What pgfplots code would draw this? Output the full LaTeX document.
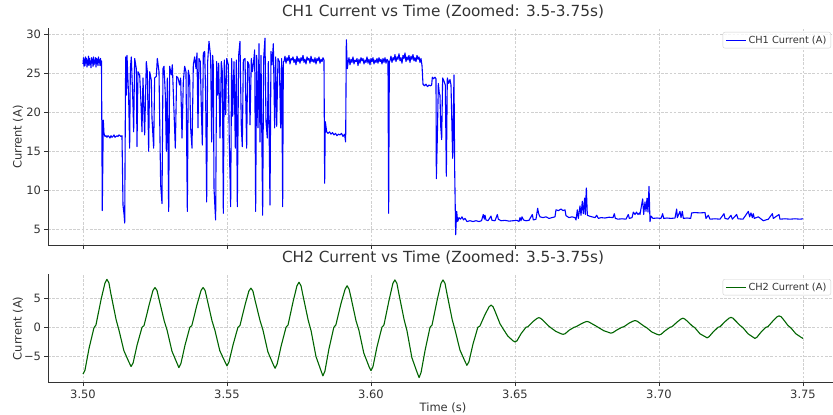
\documentclass[border=0pt]{standalone}
\usepackage{pgfplots}
\pgfplotsset{compat=1.18}
\usepackage{fontspec}
\setmainfont{DejaVu Sans}
\definecolor{txt}{HTML}{333333}
\definecolor{gridc}{HTML}{D0D0D0}
\definecolor{ch2}{HTML}{006400}
\definecolor{ch1}{HTML}{0000FF}
\pgfplotstableread{
t v
3.50000 26.2
3.50017 27.0
3.50035 25.9
3.50052 26.8
3.50069 26.0
3.50087 27.1
3.50104 26.3
3.50122 26.9
3.50139 25.8
3.50156 26.7
3.50174 26.1
3.50191 27.2
3.50208 26.0
3.50226 26.9
3.50243 26.2
3.50260 26.6
3.50278 25.7
3.50295 27.0
3.50312 26.4
3.50330 26.8
3.50347 25.9
3.50365 27.1
3.50382 26.1
3.50399 26.7
3.50417 26.3
3.50434 27.0
3.50451 25.8
3.50469 26.9
3.50486 26.2
3.50503 26.8
3.50521 26.0
3.50538 27.1
3.50556 26.4
3.50573 26.7
3.50590 26.0
3.50608 26.9
3.50625 26.3
3.50642 26.6
3.50670 7.4
3.50705 19.0
3.50729 17.3
3.50764 16.9
3.50799 17.0
3.50833 16.8
3.50868 17.0
3.50903 16.9
3.50937 16.7
3.50972 17.0
3.51007 16.8
3.51042 16.9
3.51076 17.1
3.51111 16.8
3.51146 16.9
3.51181 17.0
3.51215 16.9
3.51250 17.1
3.51285 17.0
3.51319 16.9
3.51354 17.0
3.51389 8.1
3.51424 7.0
3.51448 5.8
3.51482 27.1
3.51505 22.2
3.51528 27.3
3.51586 21.8
3.51620 15.4
3.51644 25.6
3.51678 27.1
3.51736 21.0
3.51759 17.5
3.51794 26.9
3.51852 25.6
3.51875 15.6
3.51910 25.2
3.51968 24.8
3.52002 22.2
3.52049 17.5
3.52083 24.4
3.52141 17.1
3.52199 26.5
3.52234 25.2
3.52280 15.0
3.52315 25.2
3.52373 24.1
3.52396 19.2
3.52454 15.4
3.52488 24.4
3.52546 24.6
3.52581 26.9
3.52639 25.2
3.52697 10.7
3.52743 8.3
3.52778 25.6
3.52813 25.9
3.52859 22.2
3.52894 15.0
3.52928 24.4
3.52975 7.3
3.53009 25.9
3.53067 24.8
3.53102 26.1
3.53160 20.1
3.53206 15.4
3.53252 24.6
3.53299 24.4
3.53356 23.5
3.53391 24.4
3.53438 16.7
3.53484 24.0
3.53530 25.9
3.53576 25.2
3.53623 7.3
3.53657 25.4
3.53704 24.4
3.53738 18.0
3.53785 15.4
3.53831 26.1
3.53877 27.1
3.53924 25.6
3.53958 27.6
3.53993 18.0
3.54028 26.9
3.54074 26.5
3.54109 20.5
3.54144 15.8
3.54178 27.6
3.54225 27.8
3.54259 22.2
3.54294 8.5
3.54329 26.5
3.54375 29.1
3.54433 27.1
3.54468 16.2
3.54502 27.3
3.54525 26.0
3.54549 10.3
3.54583 7.7
3.54606 6.2
3.54641 26.5
3.54676 22.2
3.54711 26.3
3.54757 16.7
3.54803 26.5
3.54838 25.2
3.54873 7.05
3.54907 26.7
3.54954 19.7
3.54988 26.9
3.55046 26.1
3.55081 15.8
3.55127 7.9
3.55162 26.9
3.55197 19.5
3.55243 26.5
3.55289 15.4
3.55324 26.7
3.55359 7.9
3.55405 27.3
3.55451 29.1
3.55498 18.0
3.55532 15.6
3.55567 26.7
3.55625 26.9
3.55660 20.1
3.55683 15.4
3.55718 26.5
3.55764 26.1
3.55799 18.4
3.55845 26.9
3.55880 25.2
3.55926 26.5
3.55961 28.0
3.55995 7.3
3.56030 27.3
3.56076 18.0
3.56111 28.8
3.56146 16.2
3.56181 27.3
3.56238 6.8
3.56273 26.9
3.56319 29.5
3.56354 18.8
3.56400 16.7
3.56435 26.5
3.56493 8.1
3.56528 27.8
3.56563 26.1
3.56609 28.8
3.56655 18.0
3.56690 27.1
3.56725 18.2
3.56771 26.9
3.56817 26.5
3.56863 18.0
3.56898 26.9
3.56933 7.9
3.56956 26.5
3.56979 26.5
3.57014 27.2
3.57049 26.3
3.57083 27.0
3.57118 26.6
3.57153 27.3
3.57188 26.2
3.57222 26.9
3.57257 26.7
3.57292 27.1
3.57326 26.4
3.57361 26.8
3.57396 26.1
3.57431 27.2
3.57465 26.5
3.57500 26.9
3.57535 26.3
3.57569 27.0
3.57604 26.6
3.57639 27.3
3.57674 26.4
3.57708 26.8
3.57743 26.2
3.57778 27.1
3.57813 26.7
3.57847 26.9
3.57882 26.3
3.57917 27.2
3.57951 26.5
3.57986 26.8
3.58021 26.4
3.58056 27.0
3.58090 26.2
3.58125 26.9
3.58160 26.6
3.58194 27.1
3.58229 26.3
3.58264 26.8
3.58299 26.5
3.58333 27.0
3.58368 26.7
3.58391 10.9
3.58414 18.8
3.58461 17.5
3.58507 17.3
3.58559 17.5
3.58611 17.2
3.58663 17.4
3.58715 17.1
3.58767 17.3
3.58819 17.0
3.58872 17.2
3.58924 17.1
3.58976 17.3
3.59028 16.9
3.59080 17.2
3.59120 16.2
3.59144 29.3
3.59178 25.6
3.59201 26.3
3.59236 27.0
3.59271 26.1
3.59306 26.8
3.59340 26.4
3.59375 27.1
3.59410 26.2
3.59444 26.7
3.59479 26.5
3.59514 26.9
3.59549 26.0
3.59583 26.8
3.59618 26.3
3.59653 27.0
3.59688 26.6
3.59722 26.9
3.59757 26.2
3.59792 26.7
3.59826 26.4
3.59861 27.1
3.59896 26.3
3.59931 26.8
3.59965 26.1
3.60000 26.9
3.60035 26.5
3.60069 27.0
3.60104 26.2
3.60139 26.7
3.60174 26.4
3.60208 26.9
3.60243 26.3
3.60278 27.0
3.60313 26.5
3.60347 26.8
3.60382 26.2
3.60417 26.9
3.60451 26.4
3.60486 27.0
3.60521 26.3
3.60556 26.8
3.60590 26.6
3.60613 7.05
3.60637 26.5
3.60660 26.6
3.60694 27.2
3.60729 26.4
3.60764 27.0
3.60799 26.7
3.60833 27.4
3.60868 26.5
3.60903 27.1
3.60938 26.8
3.60972 27.5
3.61007 26.6
3.61042 27.0
3.61076 26.3
3.61111 27.3
3.61146 26.9
3.61181 27.6
3.61215 26.5
3.61250 27.1
3.61285 26.7
3.61319 27.3
3.61354 26.4
3.61389 27.2
3.61424 26.8
3.61458 27.4
3.61493 26.6
3.61528 27.0
3.61563 26.5
3.61597 27.3
3.61632 26.8
3.61667 27.1
3.61701 26.4
3.61736 26.9
3.61771 26.0
3.61806 23.6
3.61858 23.4
3.61910 23.6
3.61962 23.3
3.62014 23.5
3.62066 23.4
3.62106 23.5
3.62130 24.5
3.62170 24.3
3.62222 24.5
3.62257 24.3
3.62269 11.5
3.62303 16.7
3.62338 23.7
3.62373 22.4
3.62396 22.2
3.62419 18.3
3.62454 16.5
3.62488 24.4
3.62535 24.0
3.62581 23.5
3.62616 11.8
3.62650 24.4
3.62697 23.7
3.62743 24.2
3.62778 23.5
3.62836 14.1
3.62882 24.8
3.62905 12.8
3.62940 4.3
3.62975 7.3
3.63009 6.0
3.63056 6.5
3.63108 6.3
3.63160 6.6
3.63212 6.2
3.63264 6.4
3.63333 6.0
3.63438 6.1
3.63542 6.0
3.63646 6.1
3.63750 6.0
3.63837 6.1
3.63900 6.9
3.63935 6.3
3.63958 6.8
3.63993 6.2
3.64063 6.1
3.64167 6.7
3.64201 6.15
3.64306 6.1
3.64387 6.9
3.64421 6.3
3.64514 6.1
3.64653 6.15
3.64792 6.05
3.64931 6.1
3.65069 6.15
3.65139 6.0
3.65174 6.5
3.65208 6.1
3.65243 6.6
3.65295 6.2
3.65382 6.1
3.65486 6.15
3.65602 6.9
3.65637 6.2
3.65729 6.3
3.65787 7.7
3.65822 7.0
3.65868 6.6
3.65972 6.5
3.66076 6.6
3.66181 6.4
3.66285 6.5
3.66389 6.6
3.66424 7.5
3.66510 7.4
3.66597 7.6
3.66667 7.4
3.66736 7.5
3.66771 6.75
3.66875 6.5
3.66979 6.6
3.67083 6.5
3.67118 6.2
3.67164 7.5
3.67199 6.4
3.67257 8.0
3.67292 6.8
3.67338 8.6
3.67373 7.0
3.67419 9.0
3.67442 6.9
3.67477 10.3
3.67512 6.8
3.67581 6.7
3.67674 6.6
3.67778 6.5
3.67836 6.8
3.67894 6.4
3.67986 6.5
3.68125 6.45
3.68264 6.55
3.68403 6.5
3.68449 7.0
3.68484 6.4
3.68576 6.3
3.68715 6.35
3.68854 6.3
3.68935 6.9
3.68970 6.4
3.69063 6.5
3.69109 7.2
3.69167 6.9
3.69219 7.2
3.69271 6.9
3.69317 7.1
3.69340 6.9
3.69433 8.9
3.69468 6.9
3.69514 8.5
3.69549 7.3
3.69583 9.0
3.69618 7.2
3.69653 10.5
3.69688 6.0
3.69722 6.7
3.69792 6.4
3.69931 6.45
3.70069 6.4
3.70127 7.0
3.70162 6.4
3.70278 6.45
3.70417 6.4
3.70556 6.45
3.70613 7.6
3.70637 6.5
3.70729 7.3
3.70764 6.5
3.70810 7.3
3.70845 6.4
3.70972 6.45
3.71100 6.4
3.71134 7.1
3.71250 7.15
3.71424 7.1
3.71597 7.15
3.71632 6.4
3.71713 6.8
3.71771 6.3
3.71944 6.35
3.72118 6.3
3.72257 7.0
3.72292 6.4
3.72396 6.3
3.72500 6.8
3.72546 6.3
3.72697 6.9
3.72743 6.35
3.72917 6.3
3.73102 7.3
3.73148 6.6
3.73194 7.1
3.73241 6.5
3.73275 7.0
3.73310 6.4
3.73449 6.6
3.73623 6.1
3.73796 6.3
3.73935 7.0
3.73970 6.4
3.74167 6.9
3.74201 6.3
3.74375 6.35
3.74549 6.3
3.74722 6.35
3.74896 6.3
3.75000 6.35
}\chone
\pgfplotstableread{
t v
3.5000 -8.0
3.5007 -7.3
3.5021 -3.6
3.5038 -0.1
3.5045 0.4
3.5063 4.8
3.5076 7.5
3.5083 8.2
3.5090 7.6
3.5097 5.7
3.5115 1.3
3.5125 -0.5
3.5142 -4.0
3.5160 -6.0
3.5167 -6.7
3.5174 -6.1
3.5188 -3.0
3.5205 0.0
3.5212 0.3
3.5230 3.9
3.5243 6.3
3.5250 6.8
3.5257 6.3
3.5264 4.8
3.5282 1.1
3.5292 -0.5
3.5309 -4.1
3.5327 -6.2
3.5333 -6.9
3.5340 -6.2
3.5354 -3.1
3.5371 0.0
3.5378 0.3
3.5396 3.9
3.5410 6.3
3.5417 6.8
3.5424 6.3
3.5431 4.8
3.5448 1.1
3.5458 -0.5
3.5475 -4.0
3.5493 -5.9
3.5500 -6.6
3.5507 -5.9
3.5521 -3.0
3.5538 0.0
3.5545 0.3
3.5563 3.9
3.5576 6.2
3.5583 6.7
3.5590 6.2
3.5597 4.7
3.5615 1.1
3.5625 -0.5
3.5642 -4.2
3.5660 -6.3
3.5667 -7.0
3.5674 -6.3
3.5688 -3.2
3.5705 0.0
3.5712 0.4
3.5730 4.5
3.5743 7.1
3.5750 7.7
3.5757 7.1
3.5764 5.4
3.5782 1.2
3.5792 -0.6
3.5809 -5.0
3.5827 -7.5
3.5833 -8.3
3.5840 -7.5
3.5854 -3.7
3.5871 0.0
3.5878 0.4
3.5896 4.1
3.5910 6.5
3.5917 7.1
3.5924 6.5
3.5931 5.0
3.5948 1.1
3.5958 -0.5
3.5975 -4.4
3.5993 -6.7
3.6000 -7.4
3.6007 -6.7
3.6021 -3.3
3.6038 0.0
3.6045 0.4
3.6063 4.7
3.6076 7.5
3.6083 8.1
3.6090 7.5
3.6097 5.7
3.6115 1.3
3.6125 -0.6
3.6142 -5.2
3.6160 -7.7
3.6167 -8.6
3.6174 -7.7
3.6188 -3.9
3.6205 0.0
3.6212 0.4
3.6230 4.7
3.6243 7.5
3.6250 8.1
3.6257 7.5
3.6264 5.7
3.6282 1.3
3.6292 -0.5
3.6309 -3.9
3.6327 -5.9
3.6333 -6.5
3.6340 -5.9
3.6354 -2.9
3.6371 0.0
3.6378 0.2
3.6396 2.2
3.6410 3.5
3.6417 3.8
3.6424 3.5
3.6431 2.7
3.6448 0.6
3.6458 -0.2
3.6475 -1.5
3.6493 -2.3
3.6500 -2.5
3.6507 -2.3
3.6521 -1.1
3.6538 0.0
3.6545 0.1
3.6563 1.0
3.6576 1.5
3.6583 1.66
3.6590 1.5
3.6597 1.2
3.6615 0.3
3.6625 -0.1
3.6642 -0.7
3.6660 -1.1
3.6667 -1.2
3.6674 -1.1
3.6688 -0.5
3.6705 0.0
3.6712 0.1
3.6730 0.6
3.6743 0.9
3.6750 1.0
3.6757 0.9
3.6764 0.7
3.6782 0.2
3.6792 -0.1
3.6809 -0.6
3.6827 -0.9
3.6833 -1.0
3.6840 -0.9
3.6854 -0.45
3.6871 0.0
3.6878 0.1
3.6896 0.7
3.6910 1.05
3.6917 1.15
3.6924 1.05
3.6931 0.8
3.6948 0.2
3.6958 -0.1
3.6975 -0.8
3.6993 -1.2
3.7000 -1.3
3.7007 -1.2
3.7021 -0.6
3.7038 0.0
3.7045 0.1
3.7063 0.9
3.7076 1.4
3.7083 1.55
3.7090 1.4
3.7097 1.1
3.7115 0.25
3.7125 -0.1
3.7142 -1.1
3.7160 -1.6
3.7167 -1.8
3.7174 -1.6
3.7188 -0.8
3.7205 0.0
3.7212 0.1
3.7230 1.0
3.7243 1.55
3.7250 1.7
3.7257 1.55
3.7264 1.2
3.7282 0.3
3.7292 -0.1
3.7309 -1.1
3.7327 -1.7
3.7333 -1.9
3.7340 -1.7
3.7354 -0.85
3.7371 0.0
3.7378 0.1
3.7396 1.1
3.7410 1.8
3.7417 1.95
3.7424 1.8
3.7431 1.4
3.7448 0.3
3.7458 -0.1
3.7475 -1.1
3.7493 -1.7
3.7500 -1.9
}\chtwo
\pgfplotsset{
  common/.style={
    scale only axis, width=785pt,
    xmin=3.48785, xmax=3.76042,
    axis x line*=bottom, axis y line*=left,
    axis line style={-, draw=txt, line width=0.9pt},
    tick align=outside, major tick length=3.5pt,
    every tick/.style={draw=txt, line width=0.8pt},
    xtick={3.50,3.55,3.60,3.65,3.70,3.75},
    grid=major,
    major grid style={draw=gridc, line width=0.5pt, dash pattern=on 2.6pt off 1.6pt},
    ticklabel style={font=\fontsize{11.5}{13}\selectfont, text=txt},
    every axis y label/.style={at={(axis description cs:-0.0382,0.5)}, rotate=90, anchor=center, font=\fontsize{11.5}{13}\selectfont, text=txt},
    every axis x label/.style={at={(axis description cs:0.5032,-0.228)}, anchor=center, font=\fontsize{11.5}{13}\selectfont, text=txt},
    title style={at={(axis description cs:0.5032,1)}, anchor=base, yshift=5.6pt, font=\fontsize{15.3}{17}\selectfont, text=txt},
    legend cell align=left,
    legend image code/.code={\draw[##1] (0pt,0pt) -- (20pt,0pt);},
    legend style={anchor=north east, draw=gridc, rounded corners=2pt, fill=white, fill opacity=0.8, text opacity=1, font=\fontsize{9.8}{11}\selectfont, text=txt, inner xsep=2.5pt, inner ysep=1.5pt},
  }
}
\begin{document}
\begin{tikzpicture}
\path[use as bounding box] (0,0) rectangle (833pt,415pt);
\begin{axis}[common,
  at={(48pt,169.3pt)}, anchor=south west, height=217.4pt,
  ymin=2.9, ymax=30.77,
  ytick={5,10,15,20,25,30}, yticklabels={5,10,15,20,25,30},
  xticklabels={},
  ylabel={Current (A)},
  title={CH1 Current vs Time (Zoomed: 3.5-3.75s)},
  legend style={at={(axis description cs:0.9975,0.983)}},
]
\addplot[ch1, line width=1.1pt, line join=round] table[x=t,y=v] {\chone};
\addlegendentry{CH1 Current (A)}
\end{axis}
\begin{axis}[common,
  at={(48pt,32.3pt)}, anchor=south west, height=108.7pt,
  ymin=-9.47, ymax=9.11,
  ytick={-5,0,5}, yticklabels={−5,0,5},
  xticklabels={3.50,3.55,3.60,3.65,3.70,3.75},
  ylabel={Current (A)},
  xlabel={Time (s)},
  title={CH2 Current vs Time (Zoomed: 3.5-3.75s)},
  legend style={at={(axis description cs:0.9975,0.954)}},
]
\addplot[ch2, line width=1.1pt, line join=round] table[x=t,y=v] {\chtwo};
\addlegendentry{CH2 Current (A)}
\end{axis}
\end{tikzpicture}
\end{document}
